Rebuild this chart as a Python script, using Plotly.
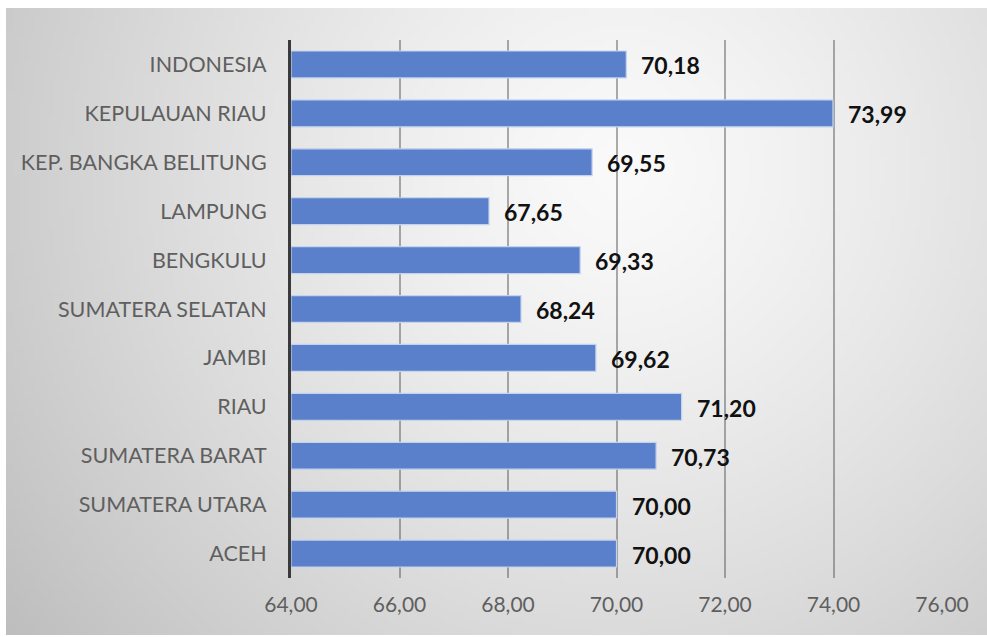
import base64
import struct
import zlib

import numpy as np
import plotly.graph_objects as go

# Provinces listed bottom-to-top as they appear on the chart
provinces = [
    "ACEH",
    "SUMATERA UTARA",
    "SUMATERA BARAT",
    "RIAU",
    "JAMBI",
    "SUMATERA SELATAN",
    "BENGKULU",
    "LAMPUNG",
    "KEP. BANGKA BELITUNG",
    "KEPULAUAN RIAU",
    "INDONESIA",
]
values = [70.00, 70.00, 70.73, 71.20, 69.62, 68.24, 69.33, 67.65, 69.55, 73.99, 70.18]
x_ticks = [64, 66, 68, 70, 72, 74, 76]

W, H = 987, 637
M_L, M_R, M_T, M_B = 291, 45, 40, 59
PLOT_W = W - M_L - M_R
PLOT_H = H - M_T - M_B


def gradient_png(w, h, cx, cy, full_w, full_h):
    """Soft radial shading (light centre, grey edges) encoded as a PNG data URI."""
    ys, xs = np.mgrid[0:h, 0:w]
    px = (xs + 0.5) / w * full_w
    py = (ys + 0.5) / h * full_h
    d = np.hypot(px - cx, py - cy)
    shade = 250 - 60 * (d / 770.0) ** 1.3
    img = np.clip(shade, 0, 255).astype(np.uint8)
    raw = b"".join(b"\x00" + img[r].tobytes() for r in range(h))

    def chunk(tag, data):
        c = struct.pack(">I", len(data)) + tag + data
        return c + struct.pack(">I", zlib.crc32(tag + data) & 0xFFFFFFFF)

    png = b"\x89PNG\r\n\x1a\n"
    png += chunk(b"IHDR", struct.pack(">IIBBBBB", w, h, 8, 0, 0, 0, 0))
    png += chunk(b"IDAT", zlib.compress(raw, 9))
    png += chunk(b"IEND", b"")
    return "data:image/png;base64," + base64.b64encode(png).decode()


# Backdrop spans the chart frame (inset a few pixels from the page edge)
BG_X0, BG_Y0, BG_X1, BG_Y1 = 6, 8, 987, 635
bg_src = gradient_png(196, 125, 620 - BG_X0, 170 - BG_Y0, BG_X1 - BG_X0, BG_Y1 - BG_Y0)

fig = go.Figure()
fig.add_trace(
    go.Bar(
        y=provinces,
        x=[v - 64 for v in values],
        base=64,
        orientation="h",
        marker=dict(color="#5a7fcb", line=dict(color="#c3d3ef", width=1.2)),
        width=0.55,
        hoverinfo="skip",
    )
)

# Value labels to the right of each bar
for name, v in zip(provinces, values):
    fig.add_annotation(
        x=v,
        y=name,
        text=f"{v:.2f}".replace(".", ","),
        showarrow=False,
        xanchor="left",
        xshift=13,
        yshift=-1,
        font=dict(family="Lato", size=23, color="#111111", weight="bold"),
    )

fig.add_layout_image(
    source=bg_src,
    xref="paper",
    yref="paper",
    x=(BG_X0 - M_L) / PLOT_W,
    y=(H - M_B - BG_Y0) / PLOT_H,
    sizex=(BG_X1 - BG_X0) / PLOT_W,
    sizey=(BG_Y1 - BG_Y0) / PLOT_H,
    xanchor="left",
    yanchor="top",
    sizing="stretch",
    layer="below",
)

fig.update_layout(
    width=W,
    height=H,
    margin=dict(l=M_L, r=M_R, t=M_T, b=M_B),
    paper_bgcolor="white",
    plot_bgcolor="rgba(0,0,0,0)",
    separators=",.",
    showlegend=False,
    font=dict(family="Lato", size=21.5, color="#595959"),
    xaxis=dict(
        range=[64, 76],
        tickvals=x_ticks,
        tickformat=".2f",
        showgrid=True,
        gridcolor="rgba(90,90,90,0.5)",
        gridwidth=2,
        zeroline=False,
        showline=False,
        ticks="",
        ticklabelstandoff=12,
        tickfont=dict(size=21, color="#5f5f5f"),
    ),
    yaxis=dict(
        categoryorder="array",
        categoryarray=provinces,
        range=[-0.5, len(provinces) - 0.5],
        showgrid=False,
        zeroline=False,
        showline=True,
        linecolor="#3a3a3a",
        linewidth=3,
        ticks="",
        ticklabelstandoff=17,
        tickfont=dict(size=21.5, color="#5f5f5f"),
    ),
)

fig.write_html("out.html")
